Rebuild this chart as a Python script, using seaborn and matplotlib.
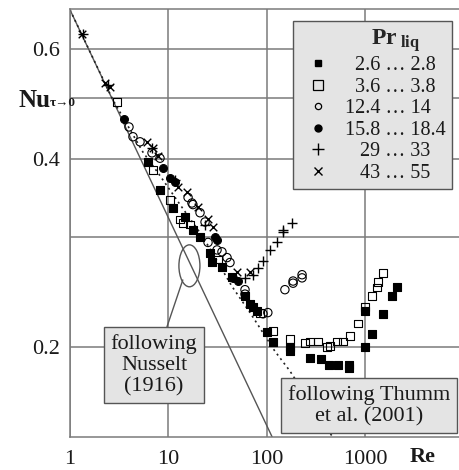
import matplotlib
matplotlib.use("Agg")
import matplotlib.pyplot as plt
import seaborn as sns
from matplotlib.lines import Line2D
from matplotlib.patches import Ellipse
from matplotlib.ticker import FixedLocator, FixedFormatter, NullLocator

# Messpunkte je Pr-Bereich (Re, Nu)
re_26 = [6.19, 8.20, 11.1, 14.7, 17.7, 20.9, 26.4, 27.6, 34.9, 44.1, 59.8, 67.2, 72.1, 79.1, 100,
         115, 171, 171, 273, 353, 426, 526, 680, 680, 988, 988, 1164, 1505, 1858, 2090]
nu_26 = [0.396, 0.357, 0.334, 0.323, 0.308, 0.300, 0.283, 0.274, 0.269, 0.259, 0.241, 0.234, 0.232,
         0.228, 0.211, 0.204, 0.200, 0.197, 0.192, 0.191, 0.187, 0.187, 0.187, 0.185, 0.200, 0.228,
         0.210, 0.226, 0.241, 0.249]

re_36 = [3.0, 6.96, 10.4, 13.1, 14.1, 16.5, 31.8, 84.9, 115, 171, 243, 273, 330, 406, 436, 514, 591,
         696, 839, 988, 1164, 1309, 1340, 1505]
nu_36 = [0.493, 0.384, 0.344, 0.320, 0.316, 0.314, 0.276, 0.227, 0.212, 0.206, 0.203, 0.204, 0.204,
         0.200, 0.201, 0.204, 0.204, 0.208, 0.218, 0.232, 0.241, 0.249, 0.254, 0.263]

re_124 = [3.97, 4.36, 5.14, 6.80, 8.2, 15.8, 17.3, 17.7, 20.9, 23.5, 25.2, 31.1, 34.9, 39.3, 42.1,
          59.8, 59.8, 91.1, 102, 152, 184, 184, 227, 227]
nu_124 = [0.450, 0.434, 0.426, 0.409, 0.401, 0.347, 0.340, 0.338, 0.328, 0.317, 0.294, 0.286, 0.284,
          0.278, 0.273, 0.247, 0.243, 0.226, 0.227, 0.247, 0.253, 0.255, 0.258, 0.261]

re_158 = [3.53, 8.79, 10.4, 11.6, 29.7, 31.1, 45.2, 50.8]
nu_158 = [0.463, 0.387, 0.373, 0.368, 0.300, 0.297, 0.258, 0.255]

re_29 = [1.36, 2.43, 6.8, 11.6, 23.5, 59.8, 72.1, 81.1, 91.1, 107, 126, 145, 145, 179]
nu_29 = [0.635, 0.526, 0.416, 0.370, 0.314, 0.258, 0.261, 0.268, 0.275, 0.286, 0.295, 0.305, 0.308, 0.316]

re_43 = [1.32, 2.27, 2.55, 6.05, 6.96, 7.83, 12.5, 15.4, 19.9, 25.2, 28.3, 49.6, 67.2]
nu_43 = [0.635, 0.530, 0.521, 0.426, 0.416, 0.404, 0.361, 0.354, 0.335, 0.320, 0.311, 0.264, 0.264]

# Korrelationen
re_nusselt = [1, 120]
nu_nusselt = [0.693, 0.1406]
re_thumm = [1, 2.73, 5.51, 7.82, 13.1, 22.4, 44.1, 67.2, 120, 171, 457]
nu_thumm = [0.693, 0.497, 0.410, 0.380, 0.338, 0.300, 0.250, 0.227, 0.197, 0.183, 0.144]

# Legendentexte (führende Leerzeichen ~ zentriert wie im Original)
pr_labels = ["  2.6 … 2.8", "  3.6 … 3.8", "12.4 … 14", "15.8 … 18.4", "   29 … 33", "   43 … 55"]
x_ticks = [1, 10, 100, 1000]
y_ticks = [0.2, 0.3, 0.4, 0.5, 0.6]
y_labels = ["0.2", "", "0.4", "", "0.6"]

sns.set_style("white")
plt.rcParams["font.family"] = ["Liberation Serif", "DejaVu Serif"]
plt.rcParams["mathtext.fontset"] = "custom"
plt.rcParams["mathtext.rm"] = "Liberation Serif"
plt.rcParams["mathtext.bf"] = "Liberation Serif:bold"
plt.rcParams["mathtext.it"] = "Liberation Serif:italic"

fig = plt.figure(figsize=(4.59, 4.70), dpi=100)
ax = fig.add_axes([0.1525, 0.0702, 0.8475, 0.9106])

grid_c = "#7a7a7a"
txt_c = "#1a1a1a"

# Linien
sns.lineplot(x=re_nusselt, y=nu_nusselt, color="#555555", lw=1.0, sort=False, ax=ax, zorder=2)
sns.lineplot(x=re_thumm, y=nu_thumm, color="#222222", lw=1.2, sort=False, ax=ax, zorder=2,
             linestyle=(0, (1.2, 2.2)))

series = [
    (re_26, nu_26, "s", True, 28),
    (re_36, nu_36, "s", False, 32),
    (re_124, nu_124, "o", False, 36),
    (re_158, nu_158, "o", True, 32),
    (re_29, nu_29, "+", None, 48),
    (re_43, nu_43, "x", None, 30),
]
for re, nu, m, filled, s in series:
    if filled is None:
        sns.scatterplot(x=re, y=nu, marker=m, s=s, color="black", linewidth=1.0, ax=ax, zorder=3)
    else:
        sns.scatterplot(x=re, y=nu, marker=m, s=s, facecolor="black" if filled else "none",
                        edgecolor="black", linewidth=0.8, ax=ax, zorder=3)

ax.set_xscale("log")
ax.set_yscale("log")
ax.set_xlim(1, 8900)
ax.set_ylim(0.1435, 0.695)

ax.xaxis.set_major_locator(FixedLocator(x_ticks))
ax.xaxis.set_major_formatter(FixedFormatter([str(t) for t in x_ticks]))
ax.xaxis.set_minor_locator(NullLocator())
ax.yaxis.set_major_locator(FixedLocator(y_ticks))
ax.yaxis.set_major_formatter(FixedFormatter(y_labels))
ax.yaxis.set_minor_locator(NullLocator())
ax.tick_params(length=0, labelsize=16, colors=txt_c)
ax.tick_params(axis="x", pad=9)
ax.tick_params(axis="y", pad=7)
ax.grid(True, color=grid_c, lw=1.1)
for side in ["left", "bottom", "top"]:
    ax.spines[side].set_color(grid_c)
    ax.spines[side].set_linewidth(1.1)
ax.spines["right"].set_visible(False)
ax.set_xlabel("")
ax.set_ylabel("")

# y-Achsentitel: Nu mit kleinem Index
ax.text(-0.0514, 0.771, "Nu", transform=ax.transAxes, ha="right", va="baseline",
        fontsize=18, fontweight="bold", color=txt_c)
ax.text(-0.0514, 0.773, "τ→0", transform=ax.transAxes, ha="left", va="baseline",
        fontsize=9.5, fontweight="bold", color=txt_c)
ax.text(0.907, -0.047, "Re", transform=ax.transAxes, ha="center", va="center",
        fontsize=16, fontweight="bold", color=txt_c)

box = dict(boxstyle="square,pad=0.3", facecolor="#e4e4e4", edgecolor="#555555", lw=1.0)
ax.add_patch(Ellipse((0.307, 0.400), 0.054, 0.098, transform=ax.transAxes,
                     fill=False, edgecolor="#555555", lw=1.0, zorder=4))
ax.annotate("following\nNusselt\n(1916)", xy=(0.29, 0.367), xycoords="axes fraction",
            xytext=(0.216, 0.168), textcoords="axes fraction", ha="center", va="center",
            fontsize=16, color=txt_c, linespacing=1.15, bbox=box, zorder=5,
            arrowprops=dict(arrowstyle="-", color="#555555", lw=1.0, shrinkA=0, shrinkB=0))
ax.text(0.768, 0.0736, "following Thumm\net al. (2001)", transform=ax.transAxes,
        ha="center", va="center", fontsize=16, color=txt_c, linespacing=1.15, bbox=box, zorder=5)

handles = [
    Line2D([], [], marker="s", ls="none", color="black", markersize=5),
    Line2D([], [], marker="s", ls="none", color="black", mfc="none", markersize=7, mew=0.9),
    Line2D([], [], marker="o", ls="none", color="black", mfc="none", markersize=4.5, mew=0.9),
    Line2D([], [], marker="o", ls="none", color="black", markersize=5),
    Line2D([], [], marker="+", ls="none", color="black", markersize=8, mew=1.0),
    Line2D([], [], marker="x", ls="none", color="black", markersize=6, mew=1.0),
]
leg = ax.legend(handles, pr_labels, loc="upper right", bbox_to_anchor=(0.982, 0.972),
                borderaxespad=0, fontsize=14.5, title="        " + r"$\mathbf{Pr}_{\ \mathbf{liq}}$",
                title_fontsize=17, frameon=True, fancybox=False, labelspacing=0.12,
                handlelength=1.9, handletextpad=0.4, borderpad=0.3)
leg.get_frame().set_facecolor("#e4e4e4")
leg.get_frame().set_edgecolor("#555555")
leg.get_frame().set_alpha(1)
leg.get_frame().set_linewidth(1.0)
leg.set_zorder(6)
for t in leg.get_texts():
    t.set_color(txt_c)

fig.savefig("out.png", dpi=100)
